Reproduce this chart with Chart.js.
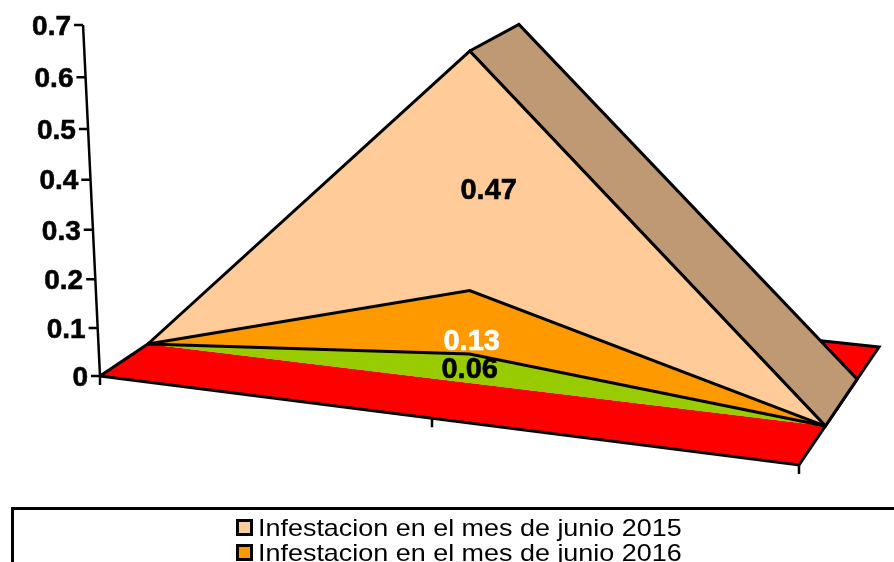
<!DOCTYPE html>
<html>
<head>
<meta charset="utf-8">
<title>Infestacion</title>
<script src="https://cdn.jsdelivr.net/npm/chart.js@4"></script>
<style>
  html, body { margin: 0; padding: 0; background: #fff; overflow: hidden; width: 894px; height: 562px; }
  #wrap { position: relative; width: 894px; height: 562px; overflow: hidden; }
  #legend { position: absolute; left: 11px; top: 507px; width: 900px; height: 80px; border: 3px solid #000; box-sizing: border-box; }
  .row { position: absolute; left: 222px; height: 25px; white-space: nowrap; font: 24px/25px "Liberation Sans", Arial, sans-serif; color: #000; }
  .swatch { display: inline-block; width: 11px; height: 11px; border: 3px solid #000; margin-right: 5px; vertical-align: 0; }
  .text { display: inline-block; transform: scaleX(1.122); transform-origin: left center; }
</style>
</head>
<body>
<div id="wrap">
  <canvas id="chart" width="894" height="562"></canvas>
  <div id="legend"></div>
</div>
<script>
// values
const yTicks = [0, 0.1, 0.2, 0.3, 0.4, 0.5, 0.6, 0.7];
const categories = ["", "", ""];
const junio2015 = [0, 0.47, 0];
const junio2016 = [0, 0.13, 0];
const thirdSeries = [0, 0.06, 0];
const legendLabels = ["Infestacion en el mes de junio 2015", "Infestacion en el mes de junio 2016"];

const colors = { s2015: "#FFCC99", side: "#BF9973", s2016: "#FF9900", s3: "#99CC00", floor: "#FF0000" };

// 3d box: floor corners, depth of the area layers and where categories sit along the floor
const floor = { fl: [100, 376], fr: [799, 465], bl: [245, 279], br: [879, 347] };
const catPos = [0, 0.475, 1];
const depthFront = 0.33;
const depthBack = 0.727;

function project(cat, depth, value) {
  const u = catPos[cat];
  const fx = floor.fl[0] + (floor.fr[0] - floor.fl[0]) * u;
  const fy = floor.fl[1] + (floor.fr[1] - floor.fl[1]) * u;
  const bx = floor.bl[0] + (floor.br[0] - floor.bl[0]) * u;
  const by = floor.bl[1] + (floor.br[1] - floor.bl[1]) * u;
  // heights grow a little towards the top and shrink towards the back
  const shrink = depth <= depthFront ? 1 + 0.018 * depth : 1.006 - 0.121 * (depth - depthFront);
  const h = (476.4 * value + 35.7 * value * value) * shrink;
  const lean = (u - catPos[1]) * 51 + 15 * Math.max(0, depth - depthFront);
  return {
    x: fx + (bx - fx) * depth + lean * value,
    y: fy + (by - fy) * depth - h,
  };
}

const stack1 = thirdSeries;
const stack2 = stack1.map((v, i) => v + junio2016[i]);
const stack3 = stack2.map((v, i) => v + junio2015[i]);

function topLine(values) {
  return categories.map((c, i) => project(i, depthFront, values[i]));
}

const last = categories.length - 1;
const sidePoly = [
  project(1, depthFront, stack3[1]),
  project(1, depthBack, stack3[1]),
  project(last, depthBack, stack3[last]),
  project(last, depthFront, stack3[last]),
  project(1, depthFront, stack3[1]),
];
const floorPoly = [
  project(0, 0, 0), project(0, 1, 0), project(last, 1, 0), project(last, 0, 0), project(0, 0, 0),
];

// axis line and tick marks, null breaks the line
const axisMarks = [project(0, 0, yTicks[yTicks.length - 1]), project(0, 0, 0)];
yTicks.forEach(t => {
  const p = project(0, 0, t);
  axisMarks.push({ x: null, y: null }, { x: p.x - 9, y: p.y }, { x: p.x, y: p.y });
});
categories.forEach((c, i) => {
  const p = project(i, 0, 0);
  axisMarks.push({ x: null, y: null }, { x: p.x, y: p.y }, { x: p.x, y: p.y + 9 });
});

function layer(label, data, color, order, extra) {
  return Object.assign({
    label, data, order,
    showLine: true,
    fill: "shape",
    backgroundColor: color,
    borderColor: "#000",
    borderWidth: 3,
    borderJoinStyle: "miter",
    tension: 0,
    pointRadius: 0,
    pointHoverRadius: 0,
  }, extra || {});
}

function heavyText(ctx, text, x, y, color) {
  ctx.fillStyle = color;
  ctx.strokeStyle = color;
  ctx.lineWidth = 0.6;
  ctx.fillText(text, x, y);
  ctx.strokeText(text, x, y);
}

const textPlugin = {
  id: "texts",
  afterDatasetsDraw(chart) {
    const { ctx, scales: { x, y } } = chart;
    ctx.save();
    ctx.font = 'bold 28px "Liberation Sans", Arial, sans-serif';
    ctx.textAlign = "right";
    ctx.textBaseline = "middle";
    yTicks.forEach(t => {
      const p = project(0, 0, t);
      heavyText(ctx, String(t), x.getPixelForValue(p.x) - 12, y.getPixelForValue(p.y) + 2, "#000");
    });
    ctx.textAlign = "center";
    ctx.font = 'bold 29px "Liberation Sans", Arial, sans-serif';
    const marks = [
      [junio2015[1], stack2[1], "#000", 19, 18],
      [junio2016[1], stack1[1], "#fff", 2, 19],
      [thirdSeries[1], 0, "#000", 0, 1],
    ];
    marks.forEach(([v, base, color, dx, dy]) => {
      const p = project(1, depthFront, base + v / 2);
      heavyText(ctx, String(v), x.getPixelForValue(p.x) + dx, y.getPixelForValue(p.y) + dy, color);
    });
    ctx.restore();
  },
};

new Chart(document.getElementById("chart"), {
  type: "scatter",
  data: {
    datasets: [
      layer("floor", floorPoly, colors.floor, 6),
      layer("side", sidePoly, colors.side, 5),
      layer(legendLabels[0], topLine(stack3), colors.s2015, 4),
      layer(legendLabels[1], topLine(stack2), colors.s2016, 3),
      layer("serie 3", topLine(stack1), colors.s3, 2),
      layer("axis", axisMarks, "transparent", 1, { fill: false, spanGaps: false, borderWidth: 2.5 }),
    ],
  },
  options: {
    responsive: false,
    animation: false,
    layout: { padding: 0 },
    plugins: { legend: { display: false }, tooltip: { enabled: false } },
    scales: {
      x: { type: "linear", min: 0, max: 894, display: false },
      y: { type: "linear", min: 0, max: 562, reverse: true, display: false },
    },
  },
  plugins: [textPlugin],
});

document.getElementById("legend").innerHTML = legendLabels.map((label, i) => {
  const c = i === 0 ? colors.s2015 : colors.s2016;
  return `<div class="row" style="top:${5 + i * 25}px"><span class="swatch" style="background:${c}"></span><span class="text">${label}</span></div>`;
}).join("");
</script>
</body>
</html>
